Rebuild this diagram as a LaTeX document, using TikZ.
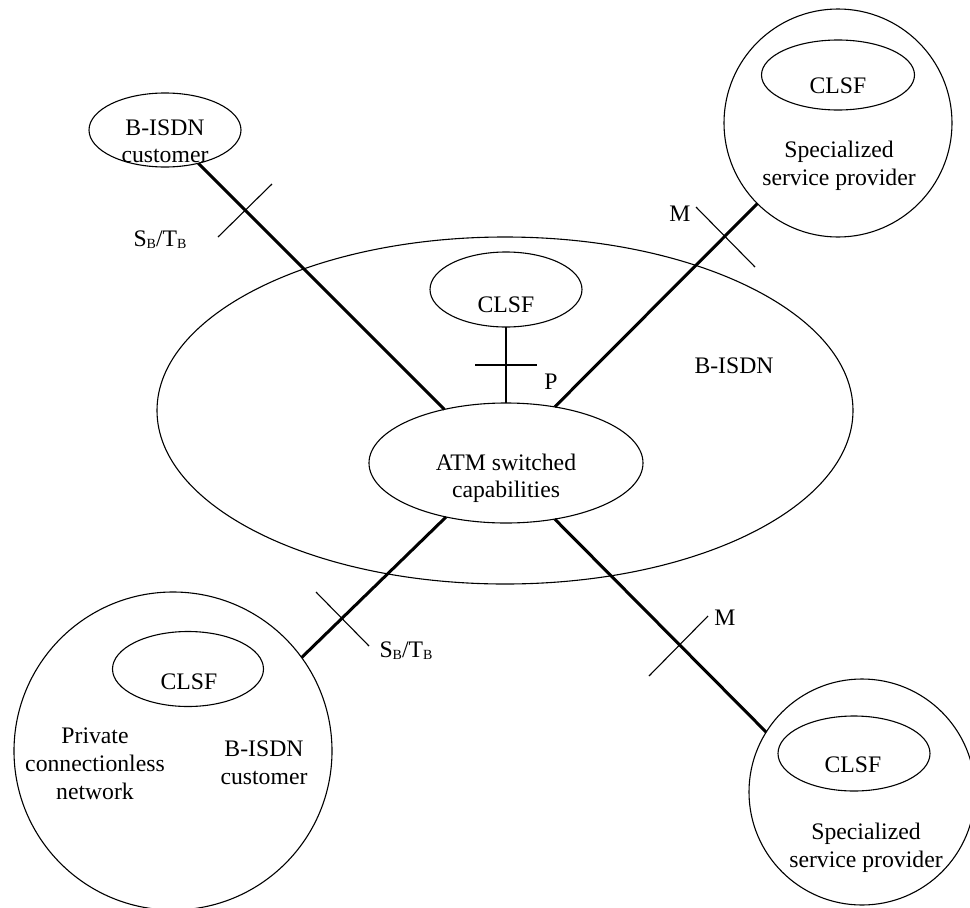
\documentclass[tikz,border=0pt]{standalone}
\usepackage{fontspec}
\setmainfont{Liberation Serif}
\usetikzlibrary{shapes.geometric}
\newcommand\mysubsc[1]{\raisebox{-2pt}{\fontsize{14}{14}\selectfont #1}}
\begin{document}
\begin{tikzpicture}[x=1pt,y=-1pt,
  ell/.style={ellipse,draw,line width=1.1pt,inner sep=0pt,outer sep=0pt},
  circ/.style={circle,draw,line width=1.1pt,inner sep=0pt,outer sep=0pt,minimum size=#1},
  lbl/.style={anchor=base,inner sep=0pt,outer sep=0pt,font=\fontsize{23.7}{28}\selectfont},
  link/.style={line width=3pt},
  tickline/.style={line width=1.1pt}]
\useasboundingbox (0,0) rectangle (970,908);

% shapes
\node[ell, minimum width=696, minimum height=347] (bisdn) at (505,410.5) {};
\node[ell, minimum width=274, minimum height=120] (atm) at (506,463) {};
\node[ell, minimum width=152, minimum height=75] (clsfc) at (506,289.5) {};
\node[ell, minimum width=152, minimum height=74] (cust) at (165,130) {};
\node[circ=228] (srvt) at (838,123) {};
\node[ell, minimum width=153, minimum height=70] (clsft) at (838,75) {};
\node[circ=226] (srvb) at (862,792) {};
\node[ell, minimum width=152, minimum height=75] (clsfb) at (854,753.5) {};
\node[circ=318] (priv) at (173,751) {};
\node[ell, minimum width=151, minimum height=75] (clsfp) at (188,669) {};

% texts
\node[lbl] (tbisdn) at (734,373) {B-ISDN};
\node[lbl] (tcust1) at (165,135) {B-ISDN};
\node[lbl] (tcust2) at (165,162) {customer};
\node[lbl] (tclsfc) at (506,312) {CLSF};
\node[lbl] (tatm1) at (506,470) {ATM switched};
\node[lbl] (tatm2) at (506,497) {capabilities};
\node[lbl] (tclsft) at (838,93) {CLSF};
\node[lbl] (tsrvt1) at (839,157) {Specialized};
\node[lbl] (tsrvt2) at (839,185) {service provider};
\node[lbl] (tclsfb) at (853,772) {CLSF};
\node[lbl] (tsrvb1) at (866,839) {Specialized};
\node[lbl] (tsrvb2) at (866,867) {service provider};
\node[lbl] (tclsfp) at (189,689) {CLSF};
\node[lbl] (tpriv1) at (95,743) {Private};
\node[lbl] (tpriv2) at (95,771) {connectionless};
\node[lbl] (tpriv3) at (95,799) {network};
\node[lbl] (tpcust1) at (264,756) {B-ISDN};
\node[lbl] (tpcust2) at (264,784) {customer};
\node[lbl] (tsbtb1) at (160,246) {S\mysubsc{B}/T\mysubsc{B}};
\node[lbl] (tsbtb2) at (406,657) {S\mysubsc{B}/T\mysubsc{B}};
\node[lbl] (tm1) at (680,221) {M};
\node[lbl] (tm2) at (725,625) {M};
\node[lbl] (tp) at (551,389) {P};

% connectors
\draw[link] (cust.315) -- (atm.139);
\draw[link] (atm.49) -- (srvt.225);
\draw[link] (atm.222) -- (priv.36);
\draw[link] (atm.311) -- (srvb.148);
\draw[tickline] (clsfc) -- (atm);

% interface ticks
\coordinate (k1a) at (218,237); \coordinate (k1b) at (272,184);
\coordinate (k2a) at (696,207); \coordinate (k2b) at (755,267);
\coordinate (k3a) at (316,592); \coordinate (k3b) at (369,646);
\coordinate (k4a) at (649,676); \coordinate (k4b) at (708,616);
\coordinate (k5a) at (475,365); \coordinate (k5b) at (537,365);
\draw[tickline] (k1a) -- (k1b);
\draw[tickline] (k2a) -- (k2b);
\draw[tickline] (k3a) -- (k3b);
\draw[tickline] (k4a) -- (k4b);
\draw[tickline] (k5a) -- (k5b);
\end{tikzpicture}
\end{document}
